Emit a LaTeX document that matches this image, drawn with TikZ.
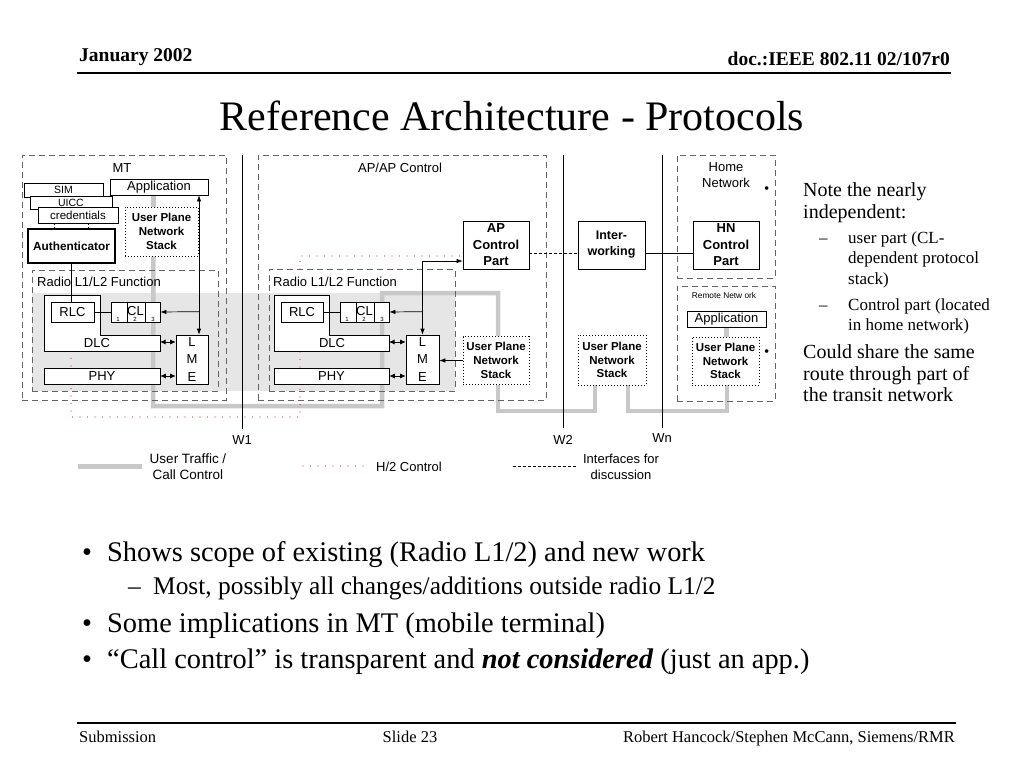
\documentclass[tikz,border=0pt]{standalone}
\usepackage{fontspec}
\setmainfont{Liberation Serif}
\setsansfont{Liberation Sans}
\usetikzlibrary{arrows.meta,calc}
\pgfdeclarelayer{bg}
\pgfsetlayers{bg,main}
\newcommand\myfs[1]{\fontsize{#1}{#1}\selectfont}
\definecolor{hred}{RGB}{200,50,50}
\definecolor{trafficgray}{RGB}{200,200,200}
\definecolor{regiongray}{RGB}{100,100,100}
\definecolor{shadecol}{RGB}{230,230,230}
\begin{document}
\begin{tikzpicture}[x=1pt,y=-1pt,
  lbl/.style={font=\sffamily\myfs{13}, inner sep=0},
  bx/.style={draw, fill=white, line width=0.7pt, inner sep=0, font=\sffamily\myfs{13}},
  bbx/.style={bx, align=center, font=\sffamily\bfseries\fontsize{13}{16.5}\selectfont},
  lme/.style={bx, align=center, font=\sffamily\fontsize{13}{17.5}\selectfont},
  upst/.style={draw, dash pattern=on 0.6pt off 2.4pt, line width=0.8pt, fill=white, inner sep=0, align=center, font=\sffamily\bfseries\fontsize{11.5}{13.8}\selectfont},
  region/.style={draw=regiongray, line width=1pt, dash pattern=on 6pt off 4pt},
  traffic/.style={draw=trafficgray, line width=4.5pt},
  htwo/.style={draw=hred, line width=1.3pt, line cap=round, dash pattern=on 0pt off 7.5pt},
  ifc/.style={draw, line width=0.8pt, dash pattern=on 3pt off 2pt},
  arr/.style={line width=0.7pt, -{Latex[length=6pt,width=4.5pt]}},
  darr/.style={line width=0.7pt, {Latex[length=6pt,width=4.5pt]}-{Latex[length=6pt,width=4.5pt]}},
  dbl/.style={line width=0.7pt, {Latex[length=5.5pt,width=5pt]}-{Latex[length=5.5pt,width=5pt]}},
  thin/.style={line width=0.7pt},
  sub/.style={font=\sffamily\myfs{6}, inner sep=0},
  serif/.style={inner sep=0, anchor=base west}
]
\useasboundingbox (0,0) rectangle (1024,768);

% ---------- header / footer ----------
\node[serif, font=\rmfamily\bfseries\myfs{19.5}] (hdl) at (79,61) {January 2002};
\node[serif, anchor=base east, font=\rmfamily\bfseries\myfs{19.5}] (hdr) at (950,66) {doc.:IEEE 802.11 02/107r0};
\coordinate (hrl) at (77,73); \coordinate (hrr) at (951,73);
\draw[line width=1.3pt] (hrl) -- (hrr);
\node[inner sep=0, anchor=base, font=\rmfamily\myfs{42}] (title) at (512,130) {Reference Architecture - Protocols};
\coordinate (frl) at (77,723); \coordinate (frr) at (956,723);
\draw[line width=1.3pt] (frl) -- (frr);
\node[serif, font=\rmfamily\myfs{16.5}] (fl) at (79,742) {Submission};
\node[serif, anchor=base, font=\rmfamily\myfs{16.5}] (fc) at (410,742) {Slide 23};
\node[serif, anchor=base east, font=\rmfamily\myfs{16.5}] (fr) at (955,742) {Robert Hancock/Stephen McCann, Siemens/RMR};

% ---------- bullets ----------
\node[serif, font=\rmfamily\myfs{28.4}] (b1d) at (82,561) {•};
\node[serif, font=\rmfamily\myfs{28.4}] (b1) at (107,561) {Shows scope of existing (Radio L1/2) and new work};
\node[serif, font=\rmfamily\myfs{25.4}] (s1d) at (128,594) {–};
\node[serif, font=\rmfamily\myfs{25.4}] (s1) at (153,594) {Most, possibly all changes/additions outside radio L1/2};
\node[serif, font=\rmfamily\myfs{28.4}] (b2d) at (82,632) {•};
\node[serif, font=\rmfamily\myfs{28.4}] (b2) at (107,632) {Some implications in MT (mobile terminal)};
\node[serif, font=\rmfamily\myfs{28.4}] (b3d) at (82,668) {•};
\node[serif, font=\rmfamily\myfs{28.4}] (b3) at (107,668) {“Call control” is transparent and \textbf{\textit{not considered}} (just an app.)};

% ---------- right text ----------
\node[serif, font=\rmfamily\myfs{15}] (rb1) at (764,193) {•};
\node[serif, font=\rmfamily\myfs{15}] (rb2) at (764,356) {•};
\node[serif, font=\rmfamily\myfs{20}] (r1) at (803,196) {Note the nearly};
\node[serif, font=\rmfamily\myfs{20}] (r2) at (803,218) {independent:};
\node[serif, font=\rmfamily\myfs{17}] (r3d) at (819,243) {–};
\node[serif, font=\rmfamily\myfs{17}] (r3) at (848,243) {user part (CL-};
\node[serif, font=\rmfamily\myfs{17}] (r4) at (848,263) {dependent protocol};
\node[serif, font=\rmfamily\myfs{17}] (r5) at (848,284) {stack)};
\node[serif, font=\rmfamily\myfs{17}] (r6d) at (819,310) {–};
\node[serif, font=\rmfamily\myfs{17}] (r6) at (848,310) {Control part (located};
\node[serif, font=\rmfamily\myfs{17}] (r7) at (848,330) {in home network)};
\node[serif, font=\rmfamily\myfs{20}] (r8) at (803,358) {Could share the same};
\node[serif, font=\rmfamily\myfs{20}] (r9) at (803,380) {route through part of};
\node[serif, font=\rmfamily\myfs{20}] (r10) at (803,401) {the transit network};

% ---------- interface lines ----------
\coordinate (w1t) at (242,155); \coordinate (w1b) at (242,429);
\coordinate (w2t) at (563,155); \coordinate (w2b) at (563,428);
\coordinate (wnt) at (662,155); \coordinate (wnb) at (662,428);
\draw[thin] (w1t) -- (w1b);
\draw[thin] (w2t) -- (w2b);
\draw[thin] (wnt) -- (wnb);
\node[lbl] (w1) at (242,440) {W1};
\node[lbl] (w2) at (563,440) {W2};
\node[lbl] (wn) at (662,438) {Wn};

% ---------- MT ----------
\node[region, minimum width=204, minimum height=245] (mt) at (124,277.5) {};
\node[lbl] (mtl) at (122,168) {MT};
\node[bx, font=\sffamily\myfs{10.5}, minimum width=79, minimum height=14] (sim) at (63.5,190) {SIM};
\node[bx, font=\sffamily\myfs{10.5}, minimum width=82, minimum height=13] (uicc) at (71,202.5) {UICC};
\node[bx, font=\sffamily\myfs{11.5}, minimum width=80, minimum height=16] (cred) at (78,215) {credentials};
\node[bx, minimum width=98, minimum height=16] (appA) at (159,187) {Application};
\node[upst, minimum width=73, minimum height=49] (upA) at (161.5,231.5) {User Plane\\Network\\Stack};
\node[bbx, line width=1.5pt, font=\sffamily\bfseries\myfs{11.8}, minimum width=87, minimum height=34] (auth) at (71.5,246) {Authenticator};
\node[region, minimum width=186, minimum height=121] (radA) at (125,330.5) {};
\node[lbl, anchor=west] (radAl) at (37,282) {Radio L1/L2 Function};
\draw[thin, fill=white] (44,295) -- (100,295) -- (100,335) -- (160,335) -- (160,351) -- (44,351) -- cycle;
\node[lbl] (dlcA) at (97,343) {DLC};
\coordinate (dlcAe) at (160,342);
\coordinate (dlcAb) at (71,351);
\node[bx, minimum width=43, minimum height=20] (rlcA) at (72.5,312) {RLC};
\node[bx, minimum width=49, minimum height=20] (clA) at (135.5,312) {};
\draw[line width=0.5pt] ($(clA.north west)+(17,0)$) -- ($(clA.south west)+(17,0)$);
\draw[line width=0.5pt] ($(clA.north west)+(35,0)$) -- ($(clA.south west)+(35,0)$);
\node[lbl] (clAl) at (135.5,311) {CL};
\node[sub] (clA1) at (118,319.5) {1};
\node[sub] (clA2) at (135,319.5) {2};
\node[sub] (clA3) at (153,319.5) {3};
\node[bx, minimum width=116, minimum height=16] (phyA) at (102,376) {PHY};
\node[lme, minimum width=32, minimum height=49] (lmeA) at (192,359.5) {L\\M\\E};

% ---------- AP ----------
\node[region, minimum width=288, minimum height=245] (ap) at (402,277.5) {};
\node[lbl] (apl) at (400,168) {AP/AP Control};
\node[bbx, minimum width=66, minimum height=48] (apc) at (496,245) {AP\\Control\\Part};
\node[region, minimum width=186, minimum height=122] (radB) at (362,330) {};
\node[lbl, anchor=west] (radBl) at (273,282) {Radio L1/L2 Function};
\draw[thin, fill=white] (274,295) -- (329,295) -- (329,335) -- (389,335) -- (389,351) -- (274,351) -- cycle;
\node[lbl] (dlcB) at (332,343) {DLC};
\coordinate (dlcBe) at (389,342);
\coordinate (dlcBb) at (300,351);
\coordinate (radBt) at (300,269);
\node[bx, minimum width=42, minimum height=20] (rlcB) at (302,312) {RLC};
\node[bx, minimum width=49, minimum height=20] (clB) at (364.5,312) {};
\draw[line width=0.5pt] ($(clB.north west)+(17,0)$) -- ($(clB.south west)+(17,0)$);
\draw[line width=0.5pt] ($(clB.north west)+(35,0)$) -- ($(clB.south west)+(35,0)$);
\node[lbl] (clBl) at (364.5,311) {CL};
\node[sub] (clB1) at (347,319.5) {1};
\node[sub] (clB2) at (364,319.5) {2};
\node[sub] (clB3) at (382,319.5) {3};
\node[bx, minimum width=115, minimum height=16] (phyB) at (331.5,376) {PHY};
\node[lme, minimum width=33, minimum height=49] (lmeB) at (422.5,359.5) {L\\M\\E};
\node[upst, minimum width=66, minimum height=48] (upB) at (496,360.5) {User Plane\\Network\\Stack};

% ---------- interworking / home / remote ----------
\node[bbx, font=\sffamily\bfseries\fontsize{12.5}{16}\selectfont, minimum width=67, minimum height=48] (iw) at (611.5,245) {Inter-\\working};
\node[upst, minimum width=68, minimum height=50] (upC) at (612,360) {User Plane\\Network\\Stack};
\node[region, minimum width=98, minimum height=123] (home) at (726,216.5) {};
\node[lbl, align=center, font=\sffamily\fontsize{13}{16}\selectfont] (homel) at (726,175) {Home\\Network};
\node[bbx, minimum width=66, minimum height=48] (hnc) at (726,245) {HN\\Control\\Part};
\node[region, minimum width=98, minimum height=115] (remote) at (726,343.5) {};
\node[lbl, font=\sffamily\myfs{8.3}] (remotel) at (724,296) {Remote Netw ork};
\node[bx, minimum width=79, minimum height=16] (appR) at (726.5,319) {Application};
\node[upst, minimum width=67, minimum height=48] (upD) at (725.5,361) {User Plane\\Network\\Stack};

% ---------- connectors ----------
\draw[darr] ($(appA.south)+(40,0)$) -- ($(lmeA.north)+(7,0)$);
\draw[arr] ($(lmeA.north)+(7,-23)$) -- (clA.east);
\draw[dbl] (dlcAe) -- (dlcAe -| lmeA.west);
\draw[dbl] (phyA.east) -- (phyA.east -| lmeA.west);
\draw[thin] (auth.south) -- (auth.south |- rlcA.north);
\draw[thin] (rlcA.east) -- (clA.west);
\draw[line width=0.6pt, dash pattern=on 2pt off 2pt] ($(cred.south)+(-24,0)$) -- ++(0,6);
\draw[line width=0.6pt, dash pattern=on 2pt off 2pt] ($(cred.south)+(10,0)$) -- ++(0,6);

\draw[darr] ($(apc.west)+(0,16)$) -| (lmeB.north);
\draw[arr] ($(lmeB.north)+(0,-23)$) -- (clB.east);
\draw[dbl] (dlcBe) -- (dlcBe -| lmeB.west);
\draw[dbl] (phyB.east) -- (phyB.east -| lmeB.west);
\draw[thin] (rlcB.east) -- (clB.west);
\draw[arr] (upB.west) -- (upB.west -| lmeB.east);

\draw[ifc] ($(apc.east)+(0,8)$) -- ($(iw.west)+(0,8)$);
\draw[thin] ($(iw.east)+(0,8)$) -- ($(hnc.west)+(0,8)$);

% ---------- legend ----------
\coordinate (lg1a) at (78,466); \coordinate (lg1b) at (142,466);
\draw[traffic, line width=5pt] (lg1a) -- (lg1b);
\node[lbl, align=center, font=\sffamily\fontsize{13.5}{16}\selectfont] (lg1) at (188,467) {User Traffic /\\Call Control};
\coordinate (lg2a) at (303,466); \coordinate (lg2b) at (367,466);
\draw[htwo] (lg2a) -- (lg2b);
\node[lbl] (lg2) at (409,467) {H/2 Control};
\coordinate (lg3a) at (513,466); \coordinate (lg3b) at (576,466);
\draw[ifc] (lg3a) -- (lg3b);
\node[lbl, align=center, font=\sffamily\fontsize{13}{16}\selectfont] (lg3) at (621,467) {Interfaces for\\discussion};

% ---------- background layer ----------
\begin{pgfonlayer}{bg}
  \fill[shadecol] (32,293) rectangle (455,391);
  \draw[traffic] ($(upA.north)+(-8,0)$) -- ++(0,-12);
  \draw[traffic] ($(upA.south)+(-8,0)$) -- (153,406) -- (382,406) -- (382,293) -| ($(upB.north)+(2,0)$);
  \draw[traffic] ($(upB.south)+(2,0)$) -- (498,411) -| ($(upC.south)+(-17,0)$);
  \draw[traffic] ($(upC.south)+(16,0)$) -- (628,411) -| ($(upD.south)+(1.5,0)$);
  \draw[traffic] (appR.south) -- (appR.south |- upD.north);
  \draw[htwo] (dlcAb) -- ++(0,66) -| (dlcBb);
  \draw[htwo] (radBt) |- ($(apc.west)+(0,11)$);
\end{pgfonlayer}
\end{tikzpicture}
\end{document}
